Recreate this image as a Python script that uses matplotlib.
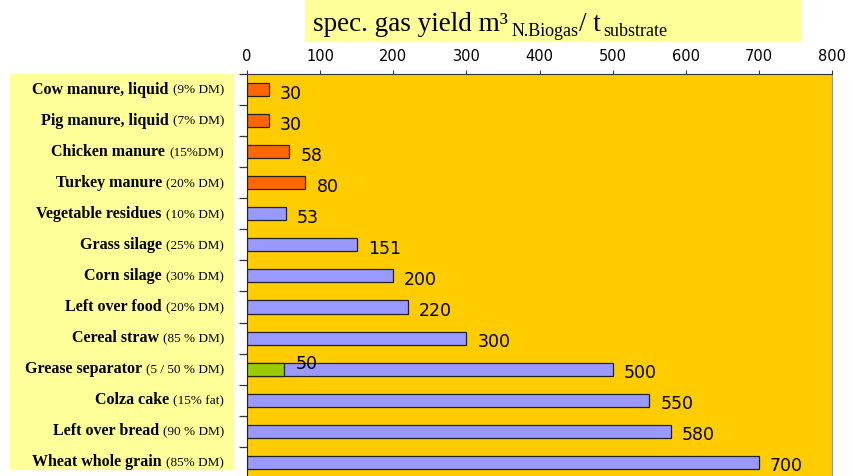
import numpy as np
import matplotlib.pyplot as plt
from matplotlib.patches import Rectangle
from matplotlib.transforms import blended_transform_factory, IdentityTransform

names = ['Cow manure, liquid', 'Pig manure, liquid', 'Chicken manure', 'Turkey manure',
         'Vegetable residues', 'Grass silage', 'Corn silage', 'Left over food',
         'Cereal straw', 'Grease separator', 'Colza cake', 'Left over bread',
         'Wheat whole grain']
notes = ['(9% DM)', '(7% DM)', '(15%DM)', '(20% DM)', '(10% DM)', '(25% DM)', '(30% DM)',
         '(20% DM)', '(85 % DM)', '(5 / 50 % DM)', '(15% fat)', '(90 % DM)', '(85% DM)']
yields = [30, 30, 58, 80, 53, 151, 200, 220, 300, 500, 550, 580, 700]
manure = [True, True, True, True, False, False, False, False, False, False, False, False, False]
# grease separator: low-DM share drawn as a separate segment
grease_low = 50
grease_idx = 9

ORANGE = '#FF6600'
BLUE = '#9999FF'
GREEN = '#99CC00'
BG = '#FFCC00'
PALE = '#FFFF99'

fig = plt.figure(figsize=(8.54, 4.77), dpi=100)
ax = fig.add_axes([247 / 854, -0.004, (832 - 247) / 854, 1 - 75 / 477 + 0.004])
ax.set_facecolor(BG)

n = len(names)
y = np.arange(n)
colors = [ORANGE if m else BLUE for m in manure]
ax.barh(y, yields, height=0.42, color=colors, edgecolor='#222222', linewidth=0.9, zorder=2)
ax.barh(grease_idx, grease_low, height=0.42, color=GREEN, edgecolor='#222222',
        linewidth=0.9, zorder=3)

for yi, v in zip(y, yields):
    ax.annotate(str(v), (v, yi), xytext=(11, -3), textcoords='offset pixels',
                ha='left', va='center', fontsize=12.5, family='DejaVu Sans')
ax.annotate(str(grease_low), (grease_low, grease_idx), xytext=(12, 6),
            textcoords='offset pixels', ha='left', va='center',
            fontsize=12.5, family='DejaVu Sans', zorder=4)

ax.set_xlim(0, 800)
ax.set_ylim(n - 0.5, -0.5)
ax.set_xticks(np.arange(0, 801, 100))
ax.xaxis.tick_top()
ax.tick_params(axis='x', direction='out', length=3, width=0.8, pad=5,
               labelsize=10.5, colors='#333333', labelcolor='black')
for lbl in ax.get_xticklabels():
    lbl.set_family('DejaVu Sans')
ax.set_yticks([])
ax.set_yticks(np.arange(n + 1) - 0.5, minor=True)
ax.tick_params(axis='y', which='minor', direction='out', length=6, width=0.9,
               colors='#333333', labelleft=False)
ax.spines['top'].set_color('#333333')
ax.spines['left'].set_color('#222222')
ax.spines['right'].set_color('#999999')
ax.spines['bottom'].set_visible(False)

# pale panels behind the title and the category labels
fig.patches.append(Rectangle((305 / 854, 1 - 42 / 477), 495 / 854, 42 / 477,
                             transform=fig.transFigure, color=PALE, zorder=0))
fig.patches.append(Rectangle((10 / 854, 1 - 470 / 477), 223 / 854, 395 / 477,
                             transform=fig.transFigure, color=PALE, zorder=0))

# title built from pieces so the subscripts sit lower and smaller
serif = 'Liberation Serif'
t1 = fig.text(313 / 854, 1 - 31 / 477, 'spec. gas yield m³', fontsize=19.5,
              family=serif, va='baseline')
t2 = fig.text(0, 0, 'N.Biogas', fontsize=13, family=serif)
t3 = fig.text(0, 0, '/ t', fontsize=19.5, family=serif)
t4 = fig.text(0, 0, 'substrate', fontsize=13, family=serif)

fig.canvas.draw()
r = fig.canvas.get_renderer()
base = (1 - 31 / 477) * fig.bbox.height
x = t1.get_window_extent(r).x1 + 4
for t, dy in ((t2, -5), (t3, 0), (t4, -5)):
    t.set_transform(IdentityTransform())
    t.set_position((x, base + dy))
    t.set_va('baseline')
    fig.canvas.draw()
    x = t.get_window_extent(r).x1 + (3 if t is t3 else 0)

# category labels: bold name followed by the smaller dry-matter note
trans = blended_transform_factory(fig.transFigure, ax.transData)
for yi, name, note in zip(y, names, notes):
    tn = fig.text(224 / 854, yi + 0.1, note, fontsize=9.5, family=serif,
                  ha='right', va='baseline', transform=trans)
    fig.canvas.draw()
    bb = tn.get_window_extent(r)
    px, py = trans.transform((224 / 854, yi + 0.1))
    fig.text(bb.x0 - 4, py, name, fontsize=11.5, family=serif, weight='bold',
             ha='right', va='baseline', transform=IdentityTransform())

fig.savefig('out.png', dpi=100)
